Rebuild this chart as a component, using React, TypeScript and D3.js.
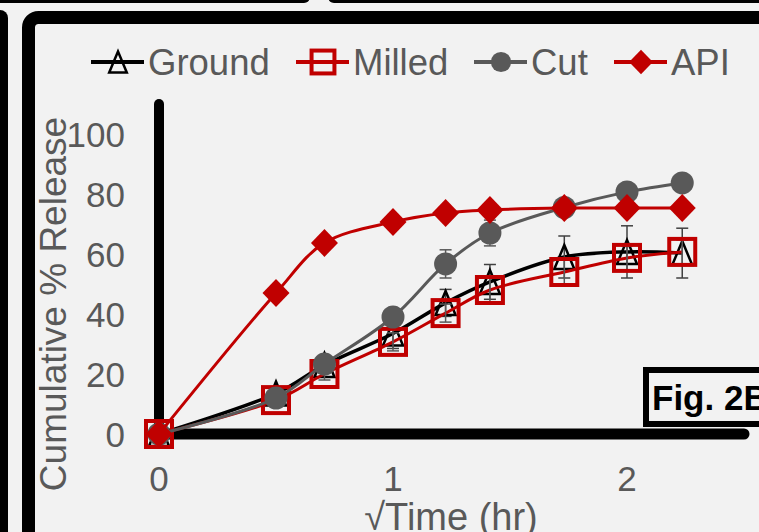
import React, { useEffect, useRef } from 'react';
import * as d3 from 'd3';

// sampling times (hr); the x axis is sqrt(time)
const timesHr = [0, 0.25, 0.5, 1, 1.5, 2, 3, 4, 5];

const groundValues = [0, 13.5, 23, 33.5, 43.7, 50.7, 59, 60.7, 60.3];
const groundErrors = [0, 1.5, 2.5, 5, 4.5, 5.8, 7, 8.7, 8.3];

const milledValues = [0, 11.3, 20, 30.7, 40.3, 48, 54, 58.7, 60.7];
const milledErrors = [0, 1.5, 2, 3, 3, 4, 4, 4, 4];

const cutValues = [0, 12, 23.3, 39, 56.7, 67, 75.5, 80.7, 83.7];
const cutErrors = [0, 1, 1.5, 1.5, 4.7, 4.3, 1.5, 1.5, 1];

const apiValues = [0, 47, 63.7, 70.7, 73.7, 74.7, 75.3, 75.3, 75.3];
const apiErrors = [0, 0, 0, 0, 0, 0, 0, 0, 0];

const seriesNames = ['Ground', 'Milled', 'Cut', 'API'];
const yTicks = [0, 20, 40, 60, 80, 100];
const xTicks = [0, 1, 2];

const RED = '#C00000';
const GRAY = '#595959';
const BG = '#F2F2F2';
const FONT = '"Liberation Sans", Arial, sans-serif';

const App = () => {
  const svgRef = useRef(null);

  useEffect(() => {
    const width = 759;
    const height = 532;
    const svg = d3.select(svgRef.current);
    svg.selectAll('*').remove();

    svg.append('rect').attr('width', width).attr('height', height).attr('fill', BG);

    // bits of neighbouring panels
    svg.append('rect').attr('x', -20).attr('y', 10).attr('width', 28).attr('height', 600)
      .attr('rx', 8).attr('fill', '#000');
    svg.append('rect').attr('x', -20).attr('y', -20).attr('width', 330).attr('height', 23)
      .attr('rx', 6).attr('fill', '#000');
    svg.append('rect').attr('x', 328).attr('y', -20).attr('width', 460).attr('height', 23)
      .attr('rx', 6).attr('fill', '#000');

    // panel frame
    svg.append('rect').attr('x', 28.5).attr('y', 17.5).attr('width', 800).attr('height', 600)
      .attr('rx', 10).attr('fill', BG).attr('stroke', '#000').attr('stroke-width', 13);

    const x = d3.scaleLinear().domain([0, 2.5]).range([159, 744]);
    const y = d3.scaleLinear().domain([0, 110]).range([434, 104]);

    // axes (thick black lines, no tick marks)
    svg.append('line').attr('x1', x(0)).attr('x2', x(2.5)).attr('y1', y(0)).attr('y2', y(0))
      .attr('stroke', '#000').attr('stroke-width', 11).attr('stroke-linecap', 'round');
    svg.append('line').attr('x1', x(0)).attr('x2', x(0)).attr('y1', y(0)).attr('y2', y(110))
      .attr('stroke', '#000').attr('stroke-width', 10).attr('stroke-linecap', 'round');

    svg.append('g').selectAll('text').data(yTicks).enter().append('text')
      .attr('x', 125).attr('y', d => y(d) + 13)
      .attr('text-anchor', 'end').attr('font-family', FONT).attr('font-size', 35)
      .attr('fill', GRAY).text(d => d);

    svg.append('g').selectAll('text').data(xTicks).enter().append('text')
      .attr('x', d => x(d)).attr('y', 491)
      .attr('text-anchor', 'middle').attr('font-family', FONT).attr('font-size', 35)
      .attr('fill', GRAY).text(d => d);

    svg.append('text')
      .attr('transform', 'translate(66,304) rotate(-90)')
      .attr('text-anchor', 'middle').attr('font-family', FONT).attr('font-size', 37)
      .attr('fill', GRAY).text('Cumulative % Release');

    svg.append('text')
      .attr('x', 451).attr('y', 530)
      .attr('text-anchor', 'middle').attr('font-family', FONT).attr('font-size', 38)
      .attr('fill', GRAY).text('\u221ATime (hr)');

    // Fig. 2B label box
    svg.append('rect').attr('x', 646).attr('y', 370).attr('width', 200).attr('height', 54)
      .attr('fill', BG).attr('stroke', '#000').attr('stroke-width', 6);
    svg.append('text').attr('x', 652).attr('y', 410)
      .attr('font-family', FONT).attr('font-size', 35).attr('font-weight', 'bold')
      .attr('fill', '#000').text('Fig. 2B');

    const xs = timesHr.map(t => Math.sqrt(t));

    const drawMarker = (g, type, cx, cy, scale = 1) => {
      if (type === 'triangle') {
        const h = 24 * scale, w = 20 * scale;
        g.append('path')
          .attr('d', `M${cx},${cy - h / 2}L${cx + w / 2},${cy + h / 2}L${cx - w / 2},${cy + h / 2}Z`)
          .attr('fill', 'none').attr('stroke', '#000').attr('stroke-width', 2.5);
      } else if (type === 'square') {
        const s = 26 * scale;
        g.append('rect').attr('x', cx - s / 2).attr('y', cy - s / 2).attr('width', s).attr('height', s)
          .attr('fill', 'none').attr('stroke', RED).attr('stroke-width', 4);
      } else if (type === 'circle') {
        g.append('circle').attr('cx', cx).attr('cy', cy).attr('r', 11.5 * scale).attr('fill', GRAY);
      } else {
        const rx = 13.5 * scale, ry = 14 * scale;
        g.append('path')
          .attr('d', `M${cx},${cy - ry}L${cx + rx},${cy}L${cx},${cy + ry}L${cx - rx},${cy}Z`)
          .attr('fill', RED);
      }
    };

    const series = [
      { values: groundValues, errors: groundErrors, color: '#000', width: 3.5, marker: 'triangle', errColor: '#404040' },
      { values: milledValues, errors: milledErrors, color: RED, width: 3, marker: 'square', errColor: GRAY },
      { values: cutValues, errors: cutErrors, color: GRAY, width: 3, marker: 'circle', errColor: GRAY },
      { values: apiValues, errors: apiErrors, color: RED, width: 3, marker: 'diamond', errColor: RED },
    ];

    const line = d3.line()
      .x(d => x(d[0]))
      .y(d => y(d[1]))
      .curve(d3.curveCatmullRom.alpha(0.5));

    series.forEach(s => {
      const g = svg.append('g');
      const pts = xs.map((v, i) => [v, s.values[i]]);
      g.append('path').datum(pts).attr('d', line).attr('fill', 'none')
        .attr('stroke', s.color).attr('stroke-width', s.width).attr('stroke-linejoin', 'round');

      pts.forEach((p, i) => {
        const e = s.errors[i];
        if (!e) return;
        const cx = x(p[0]);
        const y1 = y(p[1] + e), y2 = y(p[1] - e);
        g.append('line').attr('x1', cx).attr('x2', cx).attr('y1', y1).attr('y2', y2)
          .attr('stroke', s.errColor).attr('stroke-width', 1.5);
        [y1, y2].forEach(yy => {
          g.append('line').attr('x1', cx - 6).attr('x2', cx + 6).attr('y1', yy).attr('y2', yy)
            .attr('stroke', s.errColor).attr('stroke-width', 1.5);
        });
      });

      pts.forEach(p => drawMarker(g, s.marker, x(p[0]), y(p[1])));
    });

    // legend
    const legendX = [91, 296, 474, 614];
    const legendY = 62;
    const lg = svg.append('g');
    seriesNames.forEach((name, i) => {
      const s = series[i];
      const lx = legendX[i];
      lg.append('line').attr('x1', lx).attr('x2', lx + 53).attr('y1', legendY).attr('y2', legendY)
        .attr('stroke', s.color).attr('stroke-width', 4);
      drawMarker(lg, s.marker, lx + 27, legendY, 0.88);
      lg.append('text').attr('x', lx + 57).attr('y', legendY + 13)
        .attr('font-family', FONT).attr('font-size', 36.5).attr('fill', GRAY).text(name);
    });
  }, []);

  return (
    <svg
      ref={svgRef}
      width={759}
      height={532}
      style={{ position: 'absolute', left: 0, top: 0, display: 'block' }}
    />
  );
};

export default App;
